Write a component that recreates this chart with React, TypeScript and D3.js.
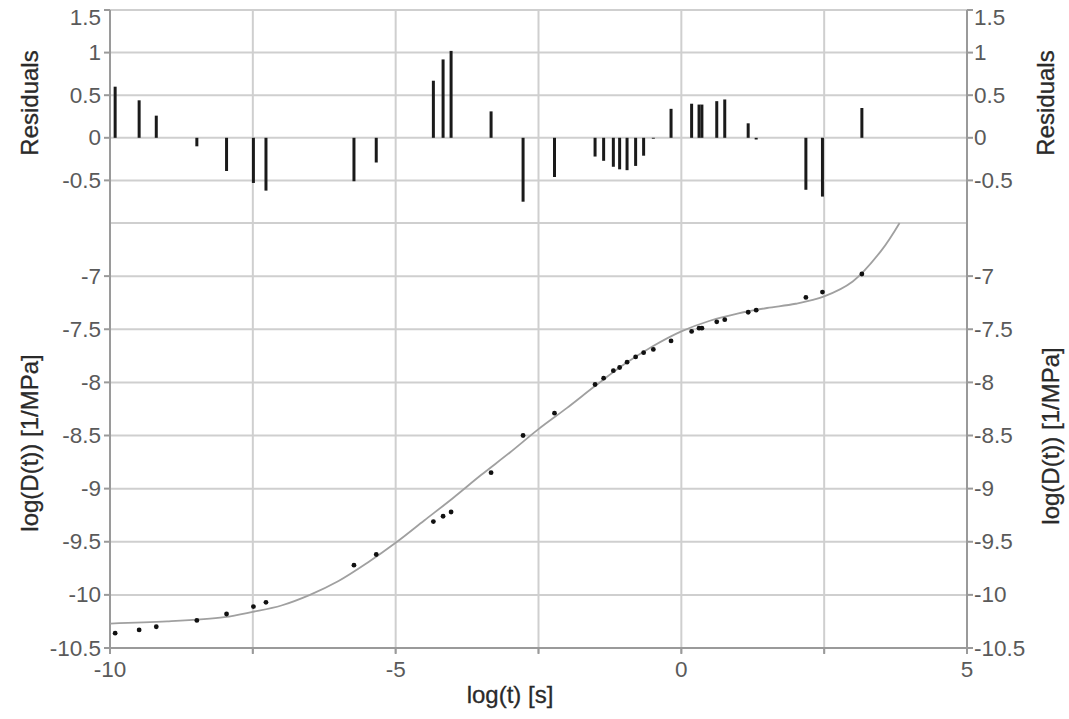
import React from "react";
import * as d3 from "d3";

// measured data: log(t) positions
const logT = [
  -9.91, -9.49, -9.19, -8.48, -7.96, -7.49, -7.27, -5.73, -5.34,
  -4.34, -4.17, -4.03, -3.33, -2.77, -2.22,
  -1.51, -1.36, -1.19, -1.08, -0.95, -0.8, -0.66, -0.49, -0.18,
  0.18, 0.31, 0.36, 0.62, 0.76, 1.17, 1.31, 2.18, 2.47, 3.16,
];
// residuals
const residuals = [
  0.6, 0.44, 0.26, -0.1, -0.39, -0.53, -0.62, -0.51, -0.29,
  0.67, 0.92, 1.02, 0.31, -0.75, -0.46,
  -0.22, -0.27, -0.34, -0.37, -0.38, -0.33, -0.21, -0.01, 0.34,
  0.4, 0.39, 0.39, 0.43, 0.45, 0.17, -0.02, -0.61, -0.69, 0.35,
];
// measured log(D(t))
const logD = [
  -10.36, -10.33, -10.3, -10.24, -10.18, -10.11, -10.07, -9.72, -9.62,
  -9.31, -9.26, -9.22, -8.85, -8.5, -8.29,
  -8.02, -7.96, -7.89, -7.86, -7.81, -7.76, -7.72, -7.69, -7.61,
  -7.52, -7.49, -7.49, -7.43, -7.41, -7.34, -7.32, -7.2, -7.15, -6.98,
];
// fitted curve
const fitX = [
  -10, -9, -8, -7.5, -7, -6.5, -6, -5.5, -5, -4.5, -4, -3.5, -3, -2.5, -2,
  -1.5, -1, -0.5, 0, 0.5, 1, 1.5, 2, 2.5, 3, 3.5, 3.82,
];
const fitY = [
  -10.27, -10.25, -10.21, -10.16, -10.1, -10.0, -9.87, -9.7, -9.51, -9.3,
  -9.09, -8.87, -8.66, -8.44, -8.24, -8.03, -7.83, -7.66, -7.52, -7.42,
  -7.35, -7.3, -7.26, -7.19, -7.05, -6.76, -6.5,
];

const xTickLabels = [-10, -5, 0, 5];
const xGrid = [-10, -7.5, -5, -2.5, 0, 2.5, 5];
const resTicks = [1.5, 1, 0.5, 0, -0.5];
const resGrid = [1.5, 1, 0.5, 0, -0.5, -1];
const dTicks = [-7, -7.5, -8, -8.5, -9, -9.5, -10, -10.5];
const dGrid = [-6.5, -7, -7.5, -8, -8.5, -9, -9.5, -10, -10.5];

const W = 1069;
const H = 719;
const L = 110;
const R = 967;
const TOP = 10;
const MID = 223;
const BOT = 648;

const FONT = "'Liberation Sans', Arial, sans-serif";
const GRID = "#cfcfcf";
const AXIS = "#9a9a9a";
const TICKTXT = "#5a5a5a";
const TITLE = "#2a2a2a";

export default function App() {
  const x = d3.scaleLinear().domain([-10, 5]).range([L, R]);
  const yr = d3.scaleLinear().domain([-1, 1.5]).range([MID, TOP]);
  const yd = d3.scaleLinear().domain([-10.5, -6.5]).range([BOT, MID]);

  const line = d3
    .line<number>()
    .x((_, i) => x(fitX[i]))
    .y((d) => yd(d))
    .curve(d3.curveCatmullRom);

  const fs = 22.5;
  const ts = 24;
  const titleProps = {
    textAnchor: "middle" as const,
    dominantBaseline: "central" as const,
    fontFamily: FONT,
    fontSize: ts,
    fill: TITLE,
    stroke: TITLE,
    strokeWidth: 0.3,
  };
  // keep top-most label inside the picture
  const labelY = (y: number) => Math.max(y, 17);

  return (
    <div style={{ position: "absolute", left: 0, top: 0 }}>
      <svg width={W} height={H} style={{ display: "block", background: "#fff" }}>
        {/* grid */}
        {xGrid.map((v) => (
          <line key={"xg" + v} x1={x(v)} x2={x(v)} y1={TOP} y2={BOT + 5} stroke={GRID} strokeWidth={2} />
        ))}
        {resGrid.map((v) => (
          <line key={"rg" + v} x1={L} x2={R} y1={yr(v)} y2={yr(v)} stroke={GRID} strokeWidth={2} />
        ))}
        {dGrid.map((v) => (
          <line key={"dg" + v} x1={L} x2={R} y1={yd(v)} y2={yd(v)} stroke={GRID} strokeWidth={2} />
        ))}
        {/* axes */}
        <line x1={L} x2={L} y1={TOP} y2={BOT} stroke={AXIS} strokeWidth={2} />
        <line x1={R} x2={R} y1={TOP} y2={BOT} stroke={AXIS} strokeWidth={2} />
        <line x1={L} x2={R} y1={BOT} y2={BOT} stroke={AXIS} strokeWidth={2} />
        {xGrid.map((v) => (
          <line key={"xt" + v} x1={x(v)} x2={x(v)} y1={BOT} y2={BOT + 6} stroke={AXIS} strokeWidth={2} />
        ))}
        {resTicks.map((v) => (
          <g key={"rt" + v}>
            <line x1={L - 6} x2={L} y1={yr(v)} y2={yr(v)} stroke={AXIS} strokeWidth={2} />
            <line x1={R} x2={R + 6} y1={yr(v)} y2={yr(v)} stroke={AXIS} strokeWidth={2} />
            <text x={L - 9} y={labelY(yr(v))} textAnchor="end" dominantBaseline="central" fontFamily={FONT} fontSize={fs} fill={TICKTXT}>
              {v}
            </text>
            <text x={R + 7} y={labelY(yr(v))} textAnchor="start" dominantBaseline="central" fontFamily={FONT} fontSize={fs} fill={TICKTXT}>
              {v}
            </text>
          </g>
        ))}
        {dTicks.map((v) => (
          <g key={"dt" + v}>
            <line x1={L - 6} x2={L} y1={yd(v)} y2={yd(v)} stroke={AXIS} strokeWidth={2} />
            <line x1={R} x2={R + 6} y1={yd(v)} y2={yd(v)} stroke={AXIS} strokeWidth={2} />
            <text x={L - 9} y={yd(v)} textAnchor="end" dominantBaseline="central" fontFamily={FONT} fontSize={fs} fill={TICKTXT}>
              {v}
            </text>
            <text x={R + 7} y={yd(v)} textAnchor="start" dominantBaseline="central" fontFamily={FONT} fontSize={fs} fill={TICKTXT}>
              {v}
            </text>
          </g>
        ))}
        {xTickLabels.map((v) => (
          <text key={"xl" + v} x={x(v)} y={BOT + 21} textAnchor="middle" dominantBaseline="central" fontFamily={FONT} fontSize={fs} fill={TICKTXT}>
            {v}
          </text>
        ))}

        {/* residual bars */}
        {residuals.map((r, i) => (
          <line key={"b" + i} x1={x(logT[i])} x2={x(logT[i])} y1={yr(0)} y2={yr(r)} stroke="#1a1a1a" strokeWidth={3} />
        ))}

        {/* fit curve */}
        <path d={line(fitY) || ""} fill="none" stroke="#a0a0a0" strokeWidth={1.8} />

        {/* points */}
        {logD.map((v, i) => (
          <circle key={"p" + i} cx={x(logT[i])} cy={yd(v)} r={2.4} fill="#111" />
        ))}

        {/* titles */}
        <text transform={`translate(29,103) rotate(-90)`} {...titleProps}>
          Residuals
        </text>
        <text transform={`translate(1045,103) rotate(-90)`} {...titleProps}>
          Residuals
        </text>
        <text transform={`translate(29,443) rotate(-90)`} {...titleProps}>
          log(D(t)) [1/MPa]
        </text>
        <text transform={`translate(1050,436) rotate(-90)`} {...titleProps}>
          log(D(t)) [1/MPa]
        </text>
        <text x={510} y={694} {...titleProps}>
          log(t) [s]
        </text>
      </svg>
    </div>
  );
}
